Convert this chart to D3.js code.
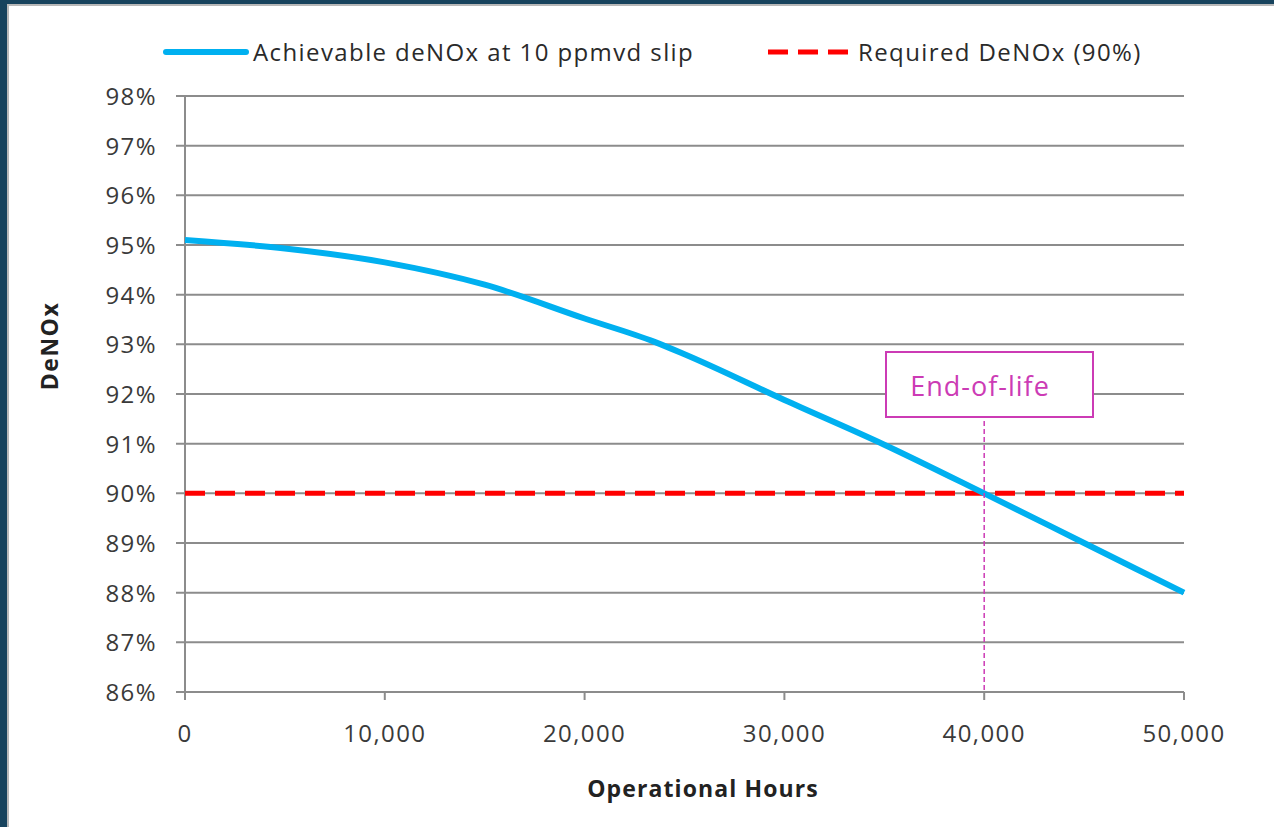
<!DOCTYPE html>
<html>
<head>
<meta charset="utf-8">
<script src="https://cdn.jsdelivr.net/npm/d3@7/dist/d3.min.js"></script>
<style>
  html, body { margin: 0; padding: 0; background: #17435d; }
  svg { display: block; }
  text { font-family: "Open Sans", "Noto Sans", sans-serif; }
</style>
</head>
<body>
<svg id="chart" width="1274" height="827"></svg>
<script>
// Operating hours and achievable deNOx (%) at 10 ppmvd ammonia slip
const hours = [0, 5000, 10000, 15000, 20000, 23500, 25000, 30000, 35000, 40000, 45000, 50000];
const achievable = [95.1, 94.93, 94.65, 94.2, 93.52, 93.05, 92.8, 91.88, 90.98, 90.0, 89.0, 88.0];
const required = 90;
const endOfLifeHours = 40000;

const xTicks = [0, 10000, 20000, 30000, 40000, 50000];
const yTicks = [86, 87, 88, 89, 90, 91, 92, 93, 94, 95, 96, 97, 98];

const seriesNames = ["Achievable deNOx at 10 ppmvd slip", "Required DeNOx (90%)"];

const svg = d3.select("#chart");

// framed white panel
svg.append("rect").attr("x", 0).attr("y", 0).attr("width", 1274).attr("height", 827).attr("fill", "#17435d");
svg.append("rect").attr("x", 7).attr("y", 4).attr("width", 1267).attr("height", 823).attr("fill", "#b8b8b8");
svg.append("rect").attr("x", 9).attr("y", 6).attr("width", 1265).attr("height", 821).attr("fill", "#ffffff");

const x = d3.scaleLinear().domain([0, 50000]).range([185, 1184]);
const y = d3.scaleLinear().domain([86, 98]).range([692, 96]);

const grid = "#8c8c8c";
const tickFont = 24;
const tickSpacing = 1.4;

// horizontal gridlines
svg.append("g")
  .selectAll("line")
  .data(yTicks)
  .join("line")
  .attr("x1", 176).attr("x2", x(50000))
  .attr("y1", d => y(d)).attr("y2", d => y(d))
  .attr("stroke", grid).attr("stroke-width", 2);

// y axis line
svg.append("line")
  .attr("x1", x(0)).attr("x2", x(0))
  .attr("y1", y(98)).attr("y2", y(86) + 8)
  .attr("stroke", grid).attr("stroke-width", 2);

// x tick marks
svg.append("g")
  .selectAll("line")
  .data(xTicks)
  .join("line")
  .attr("x1", d => x(d)).attr("x2", d => x(d))
  .attr("y1", y(86)).attr("y2", y(86) + 8)
  .attr("stroke", grid).attr("stroke-width", 2);

// y tick labels
svg.append("g")
  .selectAll("text")
  .data(yTicks)
  .join("text")
  .attr("x", 157)
  .attr("y", d => y(d) + 9)
  .attr("text-anchor", "end")
  .attr("font-size", tickFont)
  .attr("letter-spacing", tickSpacing)
  .attr("fill", "#3a3a3a")
  .text(d => d + "%");

// x tick labels
const fmt = d3.format(",");
svg.append("g")
  .selectAll("text")
  .data(xTicks)
  .join("text")
  .attr("x", d => x(d))
  .attr("y", 742)
  .attr("text-anchor", "middle")
  .attr("font-size", tickFont)
  .attr("letter-spacing", tickSpacing)
  .attr("fill", "#3a3a3a")
  .text(d => fmt(d));

// axis titles
svg.append("text")
  .attr("x", 703).attr("y", 797)
  .attr("text-anchor", "middle")
  .attr("font-size", 23).attr("font-weight", "bold")
  .attr("letter-spacing", 1.1)
  .attr("fill", "#222")
  .text("Operational Hours");

svg.append("text")
  .attr("transform", "translate(58,346) rotate(-90)")
  .attr("text-anchor", "middle")
  .attr("font-size", 23).attr("font-weight", "bold")
  .attr("letter-spacing", 1.5)
  .attr("fill", "#222")
  .text("DeNOx");

// required deNOx line
svg.append("line")
  .attr("x1", x(0)).attr("x2", x(50000))
  .attr("y1", y(required)).attr("y2", y(required))
  .attr("stroke", "#ff0000").attr("stroke-width", 5)
  .attr("stroke-dasharray", "20,10");

// achievable deNOx curve
const line = d3.line()
  .x((d, i) => x(hours[i]))
  .y(d => y(d))
  .curve(d3.curveMonotoneX);

svg.append("path")
  .datum(achievable)
  .attr("d", line)
  .attr("fill", "none")
  .attr("stroke", "#00b0f0")
  .attr("stroke-width", 6);

// end-of-life marker
const eol = "#cc3bb5";
svg.append("line")
  .attr("x1", x(endOfLifeHours)).attr("x2", x(endOfLifeHours))
  .attr("y1", 421).attr("y2", y(86))
  .attr("stroke", eol).attr("stroke-width", 1.5)
  .attr("stroke-dasharray", "5,3");

svg.append("rect")
  .attr("x", 886).attr("y", 352)
  .attr("width", 207).attr("height", 65)
  .attr("fill", "#ffffff")
  .attr("stroke", eol).attr("stroke-width", 2);

svg.append("text")
  .attr("x", 980).attr("y", 396)
  .attr("text-anchor", "middle")
  .attr("font-size", 27)
  .attr("letter-spacing", 1)
  .attr("fill", eol)
  .text("End-of-life");

// legend
const legend = svg.append("g");
legend.append("line")
  .attr("x1", 166).attr("x2", 246).attr("y1", 52).attr("y2", 52)
  .attr("stroke", "#00b0f0").attr("stroke-width", 6).attr("stroke-linecap", "round");
legend.append("text")
  .attr("x", 253).attr("y", 61)
  .attr("font-size", tickFont).attr("letter-spacing", 1.4).attr("fill", "#2a2a2a")
  .text(seriesNames[0]);
legend.append("line")
  .attr("x1", 768).attr("x2", 851).attr("y1", 52).attr("y2", 52)
  .attr("stroke", "#ff0000").attr("stroke-width", 5)
  .attr("stroke-dasharray", "20,10");
legend.append("text")
  .attr("x", 858).attr("y", 61)
  .attr("font-size", tickFont).attr("letter-spacing", 1.4).attr("fill", "#2a2a2a")
  .text(seriesNames[1]);
</script>
</body>
</html>
